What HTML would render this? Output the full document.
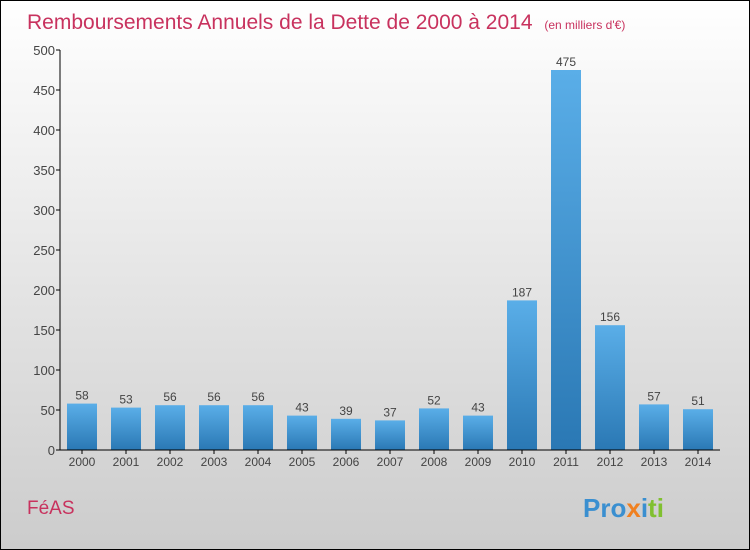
<!DOCTYPE html>
<html><head><meta charset="utf-8"><style>
body{margin:0}
#c{width:750px;height:550px;position:relative;box-sizing:border-box;border:1px solid #000;background:linear-gradient(#fff,#ccc);font-family:"Liberation Sans",sans-serif;overflow:hidden}
</style></head><body>
<div id="c">
<svg width="750" height="550" style="position:absolute;left:-1px;top:-1px" id="svg">
<defs><linearGradient id="g" x1="0" y1="0" x2="0" y2="1"><stop offset="0" stop-color="#5aaee8"/><stop offset="1" stop-color="#2a78b4"/></linearGradient></defs>
<text x="27" y="29" font-size="21" fill="#c8325e">Remboursements Annuels de la Dette de 2000 à 2014 <tspan font-size="12" dx="6">(en milliers d'€)</tspan></text>
<text x="27" y="514" font-size="19" fill="#c8325e">FéAS</text>
<text x="583" y="517" font-size="26" font-weight="bold" fill="#3a8fd0"><tspan fill="#3a8fd0">Pro</tspan><tspan fill="#f08020">x</tspan><tspan fill="#3a8fd0">i</tspan><tspan fill="#80c030">ti</tspan></text>
<g id="plot"></g>
</svg>
</div>
<script>
const categories=["2000","2001","2002","2003","2004","2005","2006","2007","2008","2009","2010","2011","2012","2013","2014"];
const values=[58,53,56,56,56,43,39,37,52,43,187,475,156,57,51];
const yTicks=[0,50,100,150,200,250,300,350,400,450,500];
const ns="http://www.w3.org/2000/svg";
const g=document.getElementById("plot");
const x0=60,y0=450,yMax=500,ph=400,step=44,bw=30;
const y=v=>y0-v/yMax*ph;
const xc=i=>x0+22+i*step;
function mk(t,a){const e=document.createElementNS(ns,t);for(const k in a)e.setAttribute(k,a[k]);g.appendChild(e);return e;}
yTicks.forEach(t=>{
 const l=mk("line",{x1:x0-4,x2:x0,y1:y(t),y2:y(t),stroke:"#000"});
 
 
 const tx=mk("text",{x:x0-5,y:y(t)+5,"font-size":13,fill:"#444","text-anchor":"end"});tx.textContent=t;
 
 
});
values.forEach((v,i)=>{
 const r=mk("rect",{x:xc(i)-bw/2,y:y(v),width:bw,height:y0-y(v),fill:"url(#g)"});
 
 
 const t=mk("text",{x:xc(i),y:y(v)-4,"font-size":12,fill:"#444","text-anchor":"middle"});t.textContent=v;
 
 
 const tk=mk("line",{x1:xc(i),x2:xc(i),y1:y0,y2:y0+4,stroke:"#000"});
 
 
 const c=mk("text",{x:xc(i),y:y0+16,"font-size":12,fill:"#444","text-anchor":"middle"});c.textContent=categories[i];
 
 
});
const ya=mk("line",{x1:x0,x2:x0,y1:y(yMax),y2:y0,stroke:"#000"});


const xa=mk("line",{x1:x0,x2:x0+categories.length*step,y1:y0,y2:y0,stroke:"#000"});


</script>
</body></html>
